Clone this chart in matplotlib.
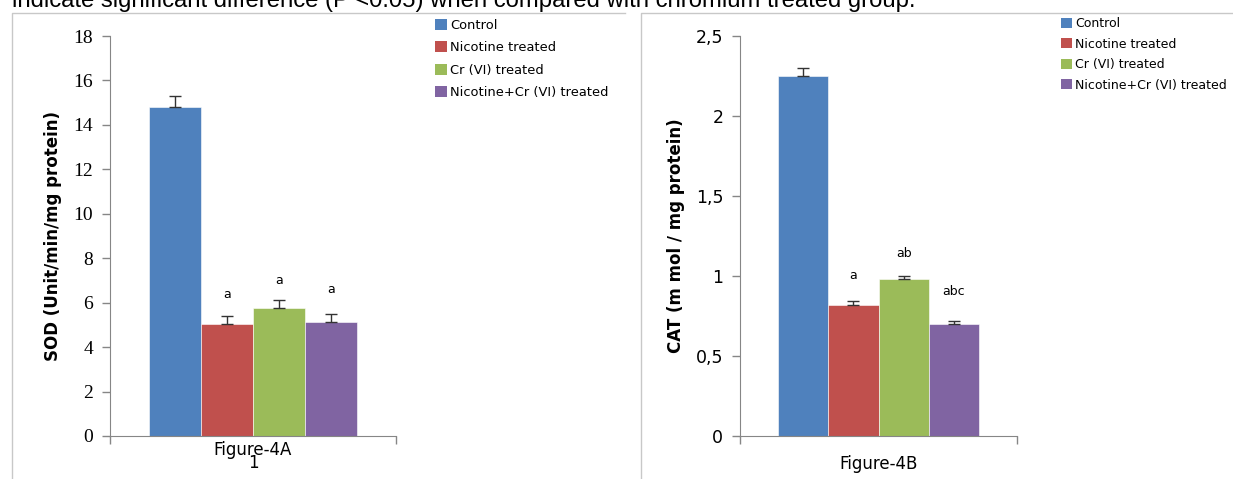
import numpy as np
import matplotlib
matplotlib.use("Agg")
import matplotlib.pyplot as plt
from matplotlib.patches import Patch
from matplotlib.lines import Line2D

groups = ["Control", "Nicotine treated", "Cr (VI) treated", "Nicotine+Cr (VI) treated"]
colors = ["#4F81BD", "#C0504D", "#9BBB59", "#8064A2"]

sod_mean = [14.8, 5.05, 5.75, 5.15]
sod_err = [0.5, 0.33, 0.35, 0.33]
sod_marks = ["", "a", "a", "a"]
sod_mark_y = [None, 6.35, 7.0, 6.6]

cat_mean = [2.25, 0.82, 0.98, 0.70]
cat_err = [0.05, 0.02, 0.02, 0.02]
cat_marks = ["", "a", "ab", "abc"]
cat_mark_y = [None, 1.0, 1.14, 0.9]

W, H = 1233, 479
fig = plt.figure(figsize=(W / 100, H / 100), dpi=100)

SANS = "DejaVu Sans"


def px(x0, y0, x1, y1):
    # pixel box (top-left origin) -> figure fraction rect
    return [x0 / W, 1 - y1 / H, (x1 - x0) / W, (y1 - y0) / H]


# caption line cut off at the top of the picture
fig.text(12 / W, 1 - 7 / H, "indicate significant difference (P <0.05) when compared with chromium treated group.",
         family="Liberation Sans", fontsize=17.2, va="baseline", ha="left")

# panel frames
for xs, ys in [([12, 12, 625], [H, 13, 13]), ([641, 641, W], [H, 13, 13])]:
    fig.add_artist(Line2D([x / W for x in xs], [1 - y / H for y in ys],
                          color="#c8c8c8", lw=1, transform=fig.transFigure))


def panel(rect, means, errs, marks, mark_y, ylim, yticks, yticklabels, tickfont, ticksize, ylabel):
    ax = fig.add_axes(rect)
    pos = np.arange(len(means)) - 1.5
    ax.bar(pos, means, width=1.0, color=colors, edgecolor="white", linewidth=0.4)
    ax.errorbar(pos, means, yerr=[np.zeros(len(errs)), errs], fmt="none",
                ecolor="#333333", elinewidth=1, capsize=4.5, capthick=1)
    for p, m, y in zip(pos, marks, mark_y):
        if m:
            ax.text(p, y, m, ha="center", va="center", fontsize=9, family=SANS)
    ax.set_xlim(-2.76, 2.76)
    ax.set_ylim(*ylim)
    ax.set_yticks(yticks)
    ax.set_yticklabels(yticklabels, family=tickfont, fontsize=ticksize)
    ax.set_xticks([-2.76, 2.76])
    ax.set_xticklabels(["", ""])
    for s in ["top", "right"]:
        ax.spines[s].set_visible(False)
    for s in ["left", "bottom"]:
        ax.spines[s].set_color("#868686")
    ax.tick_params(axis="both", direction="out", length=6, color="#868686", width=1)
    ax.tick_params(axis="y", pad=6)
    ax.set_ylabel(ylabel, fontweight="bold", fontsize=12, family=SANS, labelpad=8)
    return ax


ax1 = panel(px(110, 36, 396, 436), sod_mean, sod_err, sod_marks, sod_mark_y,
            (0, 18), np.arange(0, 19, 2), [str(v) for v in range(0, 19, 2)],
            "Liberation Serif", 14, "SOD (Unit/min/mg protein)")
ax1.text(0.5, -0.012, "Figure-4A", transform=ax1.transAxes, ha="center", va="top",
         fontsize=12, family=SANS)
ax1.text(0.5, -0.045, "1", transform=ax1.transAxes, ha="center", va="top",
         fontsize=12, family=SANS)

ax2 = panel(px(740, 35.7, 1017, 435.7), cat_mean, cat_err, cat_marks, cat_mark_y,
            (0, 2.5), np.arange(0, 2.51, 0.5), ["0", "0,5", "1", "1,5", "2", "2,5"],
            SANS, 12.5, "CAT (m mol / mg protein)")
ax2.text(0.5, -0.048, "Figure-4B", transform=ax2.transAxes, ha="center", va="top",
         fontsize=12, family=SANS)

handles = [Patch(facecolor=c, edgecolor="none") for c in colors]
fig.legend(handles, groups, loc="upper left", bbox_to_anchor=(435 / W, 1 - 19 / H),
           frameon=False, handlelength=0.9, handleheight=0.9,
           handletextpad=0.25, labelspacing=0.72, borderaxespad=0, borderpad=0,
           prop={"family": SANS, "size": 9.4})
fig.legend(handles, groups, loc="upper left", bbox_to_anchor=(1061 / W, 1 - 17 / H),
           frameon=False, handlelength=0.9, handleheight=0.9,
           handletextpad=0.25, labelspacing=0.6, borderaxespad=0, borderpad=0,
           prop={"family": SANS, "size": 9.0})

fig.savefig("out.png", dpi=100)
